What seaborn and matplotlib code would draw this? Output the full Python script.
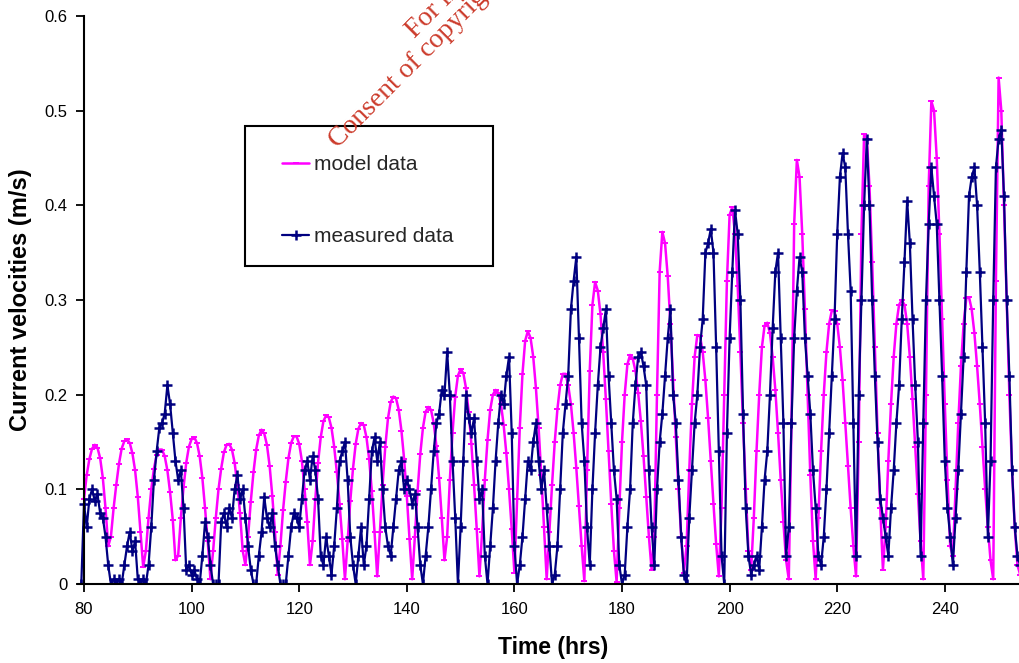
import numpy as np
import pandas as pd
import matplotlib
matplotlib.use("Agg")
import matplotlib.pyplot as plt
import seaborn as sns
from matplotlib.patches import Rectangle

# Half-hourly current speeds (m/s)
sample_step = 0.5
model_start = 80.0
measured_start = 79.5

model_velocity = [
    0.09, 0.115, 0.132, 0.143, 0.147, 0.144, 0.133, 0.112, 0.08, 0.04,
    0.05, 0.08, 0.105, 0.127, 0.143, 0.151, 0.153, 0.149, 0.138, 0.12,
    0.092, 0.055, 0.018, 0.035, 0.07, 0.1, 0.122, 0.136, 0.142, 0.142,
    0.135, 0.12, 0.097, 0.068, 0.025, 0.03, 0.07, 0.102, 0.128, 0.145,
    0.153, 0.155, 0.149, 0.135, 0.112, 0.08, 0.045, 0.005, 0.035, 0.07,
    0.1, 0.122, 0.139, 0.147, 0.148, 0.142, 0.128, 0.105, 0.075, 0.035,
    0.02, 0.05, 0.087, 0.118, 0.142, 0.157, 0.163, 0.159, 0.147, 0.125,
    0.093, 0.055, 0.01, 0.04, 0.078, 0.108, 0.133, 0.149, 0.156, 0.156,
    0.148, 0.13, 0.1, 0.065, 0.02, 0.045, 0.09, 0.128, 0.155, 0.172,
    0.178, 0.176, 0.165, 0.145, 0.118, 0.085, 0.048, 0.005, 0.045, 0.088,
    0.122, 0.148, 0.164, 0.17, 0.168, 0.155, 0.132, 0.098, 0.055, 0.008,
    0.055, 0.105, 0.145, 0.175, 0.192, 0.198, 0.196, 0.184, 0.162, 0.132,
    0.093, 0.048, 0.005, 0.05, 0.098, 0.137, 0.165, 0.182, 0.187, 0.184,
    0.17, 0.146, 0.112, 0.07, 0.025, 0.05, 0.11, 0.16, 0.198, 0.22,
    0.227, 0.223, 0.207, 0.182, 0.148, 0.105, 0.058, 0.008, 0.055, 0.11,
    0.152, 0.184, 0.2, 0.205, 0.202, 0.19, 0.168, 0.138, 0.1, 0.058,
    0.012, 0.09, 0.165, 0.222, 0.257, 0.267, 0.26, 0.24, 0.207, 0.165,
    0.115, 0.06, 0.005, 0.055, 0.105, 0.15, 0.185, 0.21, 0.222, 0.222,
    0.21, 0.19, 0.16, 0.123, 0.082, 0.04, 0.003, 0.12, 0.225, 0.295,
    0.319, 0.31, 0.285, 0.245, 0.195, 0.14, 0.085, 0.035, 0.002, 0.08,
    0.15, 0.2, 0.232, 0.242, 0.238, 0.225, 0.202, 0.172, 0.135, 0.092,
    0.05, 0.015, 0.05, 0.2, 0.33, 0.372, 0.36, 0.325, 0.275, 0.215,
    0.155, 0.1, 0.05, 0.012, 0.04, 0.12, 0.19, 0.24, 0.263, 0.262,
    0.245, 0.215, 0.175, 0.13, 0.085, 0.042, 0.008, 0.08, 0.2, 0.32,
    0.39, 0.398, 0.37, 0.315, 0.245, 0.17, 0.1, 0.035, 0.015, 0.07,
    0.14, 0.2, 0.25, 0.273, 0.276, 0.265, 0.24, 0.205, 0.16, 0.11,
    0.065, 0.025, 0.005, 0.17, 0.38, 0.448, 0.43, 0.37, 0.29, 0.2,
    0.115, 0.045, 0.005, 0.07, 0.14, 0.2, 0.245, 0.275, 0.289, 0.288,
    0.275, 0.25, 0.215, 0.17, 0.125, 0.08, 0.04, 0.008, 0.15, 0.37,
    0.475, 0.47, 0.42, 0.34, 0.25, 0.16, 0.08, 0.015, 0.06, 0.13,
    0.19, 0.24, 0.275, 0.295, 0.3, 0.295, 0.275, 0.24, 0.195, 0.145,
    0.095, 0.045, 0.005, 0.2, 0.42, 0.51, 0.5, 0.45, 0.37, 0.28,
    0.19, 0.11, 0.04, 0.03, 0.1, 0.17, 0.23, 0.275, 0.302, 0.303,
    0.29, 0.265, 0.23, 0.19, 0.145, 0.1, 0.06, 0.025, 0.005, 0.32,
    0.535, 0.5, 0.4, 0.3, 0.2, 0.12, 0.06, 0.02, 0.01,
]

measured_velocity = [
    0.0, 0.085, 0.06, 0.09, 0.1, 0.088, 0.095, 0.075, 0.07, 0.05,
    0.02, 0.0, 0.005, 0.0, 0.005, 0.0, 0.02, 0.04, 0.055, 0.035,
    0.045, 0.005, 0.0, 0.005, 0.0, 0.02, 0.06, 0.11, 0.14, 0.165,
    0.17, 0.18, 0.21, 0.19, 0.16, 0.13, 0.11, 0.12, 0.08, 0.015,
    0.02, 0.01, 0.015, 0.005, 0.0, 0.03, 0.065, 0.05, 0.02, 0.0,
    0.0, 0.0, 0.065, 0.075, 0.06, 0.08, 0.07, 0.1, 0.115, 0.09,
    0.1, 0.07, 0.04, 0.015, 0.0, 0.0, 0.03, 0.055, 0.092, 0.07,
    0.06, 0.075, 0.04, 0.02, 0.0, 0.0, 0.0, 0.03, 0.06, 0.075,
    0.07, 0.06, 0.09, 0.12, 0.13, 0.11, 0.135, 0.12, 0.09, 0.03,
    0.02, 0.05, 0.03, 0.01, 0.04, 0.08, 0.13, 0.14, 0.15, 0.11,
    0.05, 0.02, 0.0, 0.03, 0.06, 0.02, 0.04, 0.09, 0.14, 0.155,
    0.13, 0.15, 0.1, 0.06, 0.04, 0.03, 0.06, 0.09, 0.12, 0.13,
    0.1, 0.11, 0.1, 0.085, 0.095, 0.06, 0.02, 0.0, 0.03, 0.06,
    0.1, 0.14, 0.17, 0.18, 0.205, 0.2, 0.245, 0.2, 0.13, 0.07,
    0.0, 0.06, 0.13, 0.2, 0.175, 0.16, 0.175, 0.13, 0.09, 0.1,
    0.03, 0.0, 0.04, 0.08, 0.13, 0.17, 0.2, 0.19, 0.22, 0.24,
    0.16, 0.04, 0.0, 0.02, 0.05, 0.09, 0.13, 0.12, 0.15, 0.17,
    0.13, 0.1, 0.12, 0.08, 0.04, 0.0, 0.01, 0.04, 0.1, 0.16,
    0.19, 0.22, 0.29, 0.32, 0.345, 0.26, 0.17, 0.13, 0.06, 0.02,
    0.1, 0.16, 0.21, 0.25, 0.27, 0.29, 0.22, 0.17, 0.12, 0.09,
    0.02, 0.0, 0.01, 0.06, 0.1, 0.17, 0.21, 0.24, 0.245, 0.23,
    0.21, 0.12, 0.06, 0.02, 0.1, 0.15, 0.18, 0.22, 0.26, 0.29,
    0.2, 0.17, 0.11, 0.05, 0.01, 0.0, 0.07, 0.12, 0.17, 0.2,
    0.25, 0.28, 0.35, 0.36, 0.375, 0.35, 0.25, 0.14, 0.03, 0.0,
    0.16, 0.26, 0.33, 0.395, 0.37, 0.3, 0.18, 0.08, 0.03, 0.01,
    0.02, 0.03, 0.015, 0.06, 0.11, 0.14, 0.2, 0.27, 0.33, 0.35,
    0.26, 0.17, 0.03, 0.06, 0.17, 0.26, 0.31, 0.345, 0.33, 0.26,
    0.22, 0.18, 0.12, 0.08, 0.03, 0.02, 0.05, 0.1, 0.16, 0.22,
    0.28, 0.37, 0.43, 0.455, 0.44, 0.37, 0.31, 0.17, 0.03, 0.2,
    0.3, 0.4, 0.47, 0.4, 0.3, 0.22, 0.15, 0.09, 0.07, 0.05,
    0.03, 0.08, 0.12, 0.17, 0.21, 0.28, 0.34, 0.405, 0.36, 0.28,
    0.21, 0.15, 0.03, 0.17, 0.3, 0.38, 0.44, 0.41, 0.38, 0.3,
    0.22, 0.13, 0.08, 0.05, 0.02, 0.07, 0.12, 0.18, 0.24, 0.33,
    0.41, 0.43, 0.44, 0.4, 0.33, 0.25, 0.17, 0.05, 0.13, 0.3,
    0.44, 0.47, 0.48, 0.41, 0.3, 0.22, 0.12, 0.06, 0.03, 0.02,
]

series_labels = ["model data", "measured data"]
x_ticks = [80, 100, 120, 140, 160, 180, 200, 220, 240]
y_ticks = [0.0, 0.1, 0.2, 0.3, 0.4, 0.5, 0.6]
y_tick_labels = ["0", "0.1", "0.2", "0.3", "0.4", "0.5", "0.6"]

model_df = pd.DataFrame({
    "hours": model_start + sample_step * np.arange(len(model_velocity)),
    "velocity": model_velocity,
})
measured_df = pd.DataFrame({
    "hours": measured_start + sample_step * np.arange(len(measured_velocity)),
    "velocity": measured_velocity,
})

sns.set_theme(style="ticks")
plt.rcParams["font.family"] = ["Liberation Sans", "DejaVu Sans"]

W, H = 1019, 663
fig = plt.figure(figsize=(W / 100, H / 100), dpi=100)
fig.patch.set_facecolor("white")
ax = fig.add_axes([78 / W, 79 / H, (W - 78) / W, 568 / H])
ax.set_facecolor("white")

sns.lineplot(data=model_df, x="hours", y="velocity", ax=ax, estimator=None,
             sort=False, color="#FF00FF", linewidth=1.8, marker="_",
             markersize=5, markeredgewidth=1.4, markeredgecolor="#FF00FF",
             label=series_labels[0], legend=False)
sns.lineplot(data=measured_df, x="hours", y="velocity", ax=ax, estimator=None,
             sort=False, color="#000080", linewidth=1.6, marker="+",
             markersize=7, markeredgewidth=1.8, markeredgecolor="#000080",
             label=series_labels[1], legend=False)

ax.set_xlim(78.885, 253.79)
ax.set_ylim(0, 0.6)
ax.set_xticks(x_ticks)
ax.set_xticklabels([str(t) for t in x_ticks])
ax.set_yticks(y_ticks)
ax.set_yticklabels(y_tick_labels)

for side in ("top", "right"):
    ax.spines[side].set_visible(False)
ax.spines["left"].set_position(("data", 80))
for side in ("left", "bottom"):
    ax.spines[side].set_linewidth(1.5)
    ax.spines[side].set_color("black")
ax.tick_params(direction="out", length=6, width=1.3, colors="black",
               labelsize=12)
ax.tick_params(axis="x", pad=7)
ax.tick_params(axis="y", pad=6)

ax.set_xlabel("Time (hrs)", fontsize=16.5, fontweight="bold", color="black")
ax.set_ylabel("Current velocities (m/s)", fontsize=17, fontweight="bold",
              color="black")
ax.xaxis.set_label_coords((553 - 78) / 941, -0.092)
ax.yaxis.set_label_coords(-0.049, 0.5)

handles = ax.get_lines()[:2]
leg = ax.legend(handles=handles, labels=series_labels, loc="upper left",
                bbox_to_anchor=(282 / W, (H - 155) / H),
                bbox_transform=fig.transFigure, frameon=False, fontsize=15,
                handlelength=1.3, handletextpad=0.25, labelspacing=2.55,
                borderpad=0, borderaxespad=0)
leg.set_zorder(6)
ax.add_patch(Rectangle((245 / W, (H - 266) / H), 248 / W, 140 / H,
                       transform=fig.transFigure, fill=False,
                       edgecolor="black", linewidth=1.5, clip_on=False,
                       zorder=5))

wm = dict(rotation=45, rotation_mode="anchor", ha="left", va="baseline",
          color="#cc3b2b", fontsize=20, family=["Liberation Serif"])
fig.text(338 / W, (H - 149) / H,
         "Consent of copyright owner required for any other use.", **wm)
fig.text(415 / W, (H - 39) / H, "For inspection purposes only.", **wm)

fig.savefig("out.png", dpi=100, facecolor="white")
